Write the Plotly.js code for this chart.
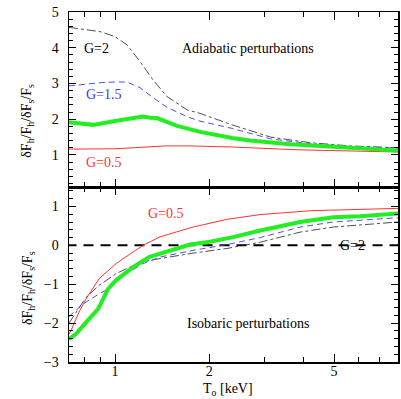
<!DOCTYPE html>
<html>
<head>
<meta charset="utf-8">
<script src="https://cdn.plot.ly/plotly-3.0.1.min.js"></script>
<style>
  body { margin: 0; background: #fff; }
  #chart { width: 401px; height: 399px; }
</style>
</head>
<body>
<div id="chart"></div>
<script>
// adiabatic perturbations (top panel), T in keV
let adiG2T = [0.713, 0.802, 0.896, 1.0, 1.092, 1.202, 1.322, 1.466, 1.698, 1.855, 2.365, 3.128, 4.198, 5.634, 8.0];
let adiG2 = [4.57, 4.50, 4.45, 4.31, 4.08, 3.61, 3.10, 2.63, 2.26, 2.17, 1.84, 1.50, 1.34, 1.25, 1.20];

let adiG15T = [0.713, 0.802, 0.896, 1.0, 1.092, 1.202, 1.322, 1.466, 1.698, 1.855, 2.365, 3.128, 4.198, 5.634, 8.0];
let adiG15 = [2.93, 2.98, 3.02, 3.04, 3.04, 2.88, 2.60, 2.33, 2.07, 1.95, 1.74, 1.45, 1.31, 1.23, 1.19];

let adiG1T = [0.713, 0.851, 1.0, 1.117, 1.229, 1.294, 1.362, 1.578, 1.855, 2.365, 2.700, 3.624, 4.863, 8.0];
let adiG1 = [1.91, 1.84, 1.95, 2.02, 2.07, 2.04, 2.03, 1.81, 1.65, 1.47, 1.40, 1.30, 1.23, 1.12];

let adiG05T = [0.713, 1.0, 1.444, 1.736, 2.365, 3.899, 8.0];
let adiG05 = [1.16, 1.17, 1.25, 1.25, 1.22, 1.14, 1.08];

// isobaric perturbations (bottom panel)
let isoG05T = [0.713, 0.723, 0.767, 0.808, 0.889, 1.007, 1.142, 1.229, 1.393, 1.775, 2.279, 2.906, 4.198, 5.634, 8.0];
let isoG05 = [-2.28, -2.20, -1.72, -1.38, -0.86, -0.47, -0.17, 0.0, 0.22, 0.47, 0.67, 0.79, 0.89, 0.92, 0.95];

let isoG1T = [0.713, 0.750, 0.808, 0.882, 0.916, 0.950, 1.007, 1.142, 1.284, 1.393, 1.736, 2.012, 2.382, 2.906, 3.899, 4.971, 6.063, 8.0];
let isoG1 = [-2.41, -2.28, -1.98, -1.64, -1.38, -1.12, -0.90, -0.56, -0.30, -0.22, 0.02, 0.09, 0.21, 0.38, 0.60, 0.72, 0.75, 0.82];

let isoG15T = [0.713, 0.790, 0.889, 0.950, 1.061, 1.229, 1.393, 1.775, 2.279, 2.906, 3.899, 4.971, 8.0];
let isoG15 = [-1.83, -1.51, -1.25, -1.12, -0.78, -0.47, -0.30, -0.13, 0.02, 0.20, 0.47, 0.60, 0.71];

let isoG2T = [0.713, 0.808, 0.889, 1.007, 1.142, 1.284, 1.393, 1.775, 2.279, 2.906, 3.899, 4.971, 8.0];
let isoG2 = [-2.0, -1.34, -1.03, -0.73, -0.52, -0.39, -0.34, -0.20, -0.08, 0.08, 0.34, 0.47, 0.60];

let zeroT = [0.7, 8.2];
let zeroY = [0, 0];

let serif = "Liberation Serif";
let red = "#ff3333", blue = "#3a3aee", black = "#222222", green = "#22ee22";

function line(x, y, color, width, dash, top) {
    return {
        x: x, y: y, type: "scatter", mode: "lines",
        xaxis: top ? "x2" : "x", yaxis: top ? "y2" : "y",
        line: { color: color, width: width, dash: dash },
        hoverinfo: "skip"
    };
}

let data = [
    line(adiG05T, adiG05, red, 1, "solid", true),
    line(adiG2T, adiG2, black, 0.8, "dashdot", true),
    line(adiG15T, adiG15, blue, 0.9, "6px,4px", true),
    line(adiG1T, adiG1, green, 4, "solid", true),
    line(zeroT, zeroY, "#000", 2, "10px,7px", false),
    line(isoG05T, isoG05, red, 1, "solid", false),
    line(isoG2T, isoG2, black, 0.8, "dashdot", false),
    line(isoG15T, isoG15, blue, 0.9, "6px,4px", false),
    line(isoG1T, isoG1, green, 4, "solid", false)
];

let xcommon = {
    type: "log",
    range: [Math.log10(0.713), Math.log10(8.0)],
    tickmode: "array", tickvals: [1, 2, 5],
    ticks: "inside", ticklen: 8, tickwidth: 1, tickcolor: "#000",
    showline: true, linewidth: 1.5, linecolor: "#000", mirror: "allticks",
    showgrid: false, zeroline: false,
    minor: { tickmode: "array", tickvals: [0.8, 0.9, 3, 4, 6, 7, 8], ticks: "inside", ticklen: 5, tickwidth: 1, tickcolor: "#000", showgrid: false },
    tickfont: { family: serif, size: 14, color: "#000" }
};
let ycommon = {
    ticks: "inside", ticklen: 7, tickwidth: 1, tickcolor: "#000",
    showline: true, linewidth: 1.5, linecolor: "#000", mirror: "allticks",
    showgrid: false, zeroline: false, dtick: 1, tick0: 0,
    ticklabelstandoff: 6,
    minor: { dtick: 0.2, ticks: "inside", ticklen: 4, tickwidth: 1, tickcolor: "#000", showgrid: false },
    tickfont: { family: serif, size: 14, color: "#000" }
};

let ytitle = "δF<sub>h</sub>/F<sub>h</sub>/δF<sub>s</sub>/F<sub>s</sub>";
function note(text, x, y, color, angle) {
    return { text: text, x: x, y: y, xref: "paper", yref: "paper", showarrow: false,
        xanchor: "center", yanchor: "middle", textangle: angle || 0,
        font: { family: serif, size: 14, color: color } };
}

let layout = {
    width: 401, height: 399,
    margin: { l: 69, r: 3, t: 12, b: 37 },
    paper_bgcolor: "#fff", plot_bgcolor: "#fff",
    showlegend: false,
    font: { family: serif, size: 14, color: "#000" },
    xaxis: Object.assign({}, xcommon, { anchor: "y", ticktext: ["1", "2", "5"], ticklabelstandoff: -4 }),
    xaxis2: Object.assign({}, xcommon, { anchor: "y2", matches: "x", showticklabels: false }),
    yaxis: Object.assign({}, ycommon, { domain: [0, 0.5], range: [-3, 1.5], anchor: "x" }),
    yaxis2: Object.assign({}, ycommon, { domain: [0.5, 1], range: [0.1, 5], anchor: "x2" }),
    annotations: [
        note("Adiabatic perturbations", 0.544, 0.897, "#000"),
        note("G=2", 0.085, 0.897, "#000"),
        note("G=1.5", 0.106, 0.763, blue),
        note("G=0.5", 0.106, 0.569, red),
        note("G=0.5", 0.295, 0.423, red),
        note("G=2", 0.863, 0.334, "#000"),
        note("Isobaric perturbations", 0.544, 0.109, "#000"),
        note(ytitle, -0.125, 0.689, "#000", -90),
        note(ytitle, -0.125, 0.211, "#000", -90),
        note("T<sub>o</sub> [keV]", 0.483, -0.078, "#000")
    ]
};

Plotly.newPlot("chart", data, layout, { displayModeBar: false, staticPlot: true });
</script>
</body>
</html>
